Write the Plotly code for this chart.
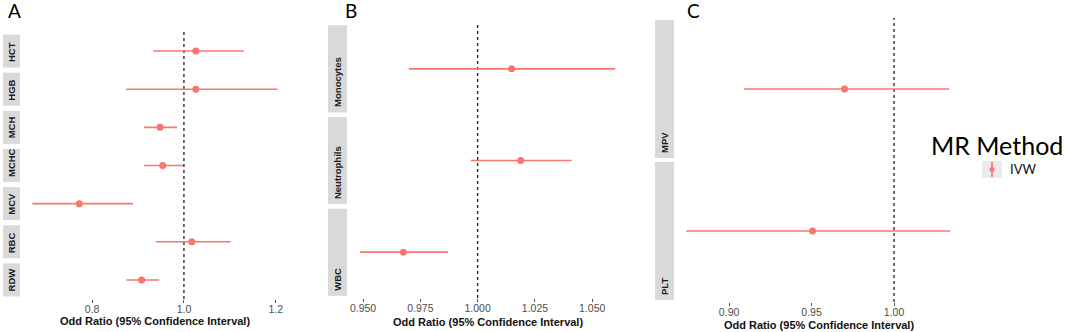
import plotly.graph_objects as go

W, H = 1065, 332

# ---------------- data ----------------
a_cats = ["HCT", "HGB", "MCH", "MCHC", "MCV", "RBC", "RDW"]
a_or = [1.026, 1.026, 0.948, 0.954, 0.772, 1.017, 0.908]
a_lo = [0.933, 0.874, 0.913, 0.913, 0.670, 0.939, 0.874]
a_hi = [1.130, 1.204, 0.985, 0.998, 0.889, 1.102, 0.946]

b_cats = ["Monocytes", "Neutrophils", "WBC"]
b_or = [1.0148, 1.0188, 0.9676]
b_lo = [0.970, 0.997, 0.9486]
b_hi = [1.060, 1.041, 0.987]

c_cats = ["MPV", "PLT"]
c_or = [0.970, 0.9506]
c_lo = [0.909, 0.874]
c_hi = [1.0334, 1.034]

a_ticks = [0.8, 1.0, 1.2]
a_ticktext = ["0.8", "1.0", "1.2"]
b_ticks = [0.950, 0.975, 1.000, 1.025, 1.050]
b_ticktext = ["0.950", "0.975", "1.000", "1.025", "1.050"]
c_ticks = [0.90, 0.95, 1.00]
c_ticktext = ["0.90", "0.95", "1.00"]

method_name = "IVW"
legend_title = "MR Method"
x_title = "Odd Ratio (95% Confidence Interval)"

RED = "#F8766D"
STRIP = "#d9d9d9"
FONT = "Liberation Sans, Arial, sans-serif"
FONT2 = "Lato, Liberation Sans, sans-serif"


def px(p):
    return p / W


def py(p):
    return 1 - p / H


panels = [
    dict(cats=a_cats, orv=a_or, lo=a_lo, hi=a_hi, ticks=a_ticks, ticktext=a_ticktext,
         xdom=(20, 290), ydom=(32, 299), xr=(0.643, 1.231), strip=(3, 20), sh=0.433,
         letter="A", lx=6, title_y=320.5),
    dict(cats=b_cats, orv=b_or, lo=b_lo, hi=b_hi, ticks=b_ticks, ticktext=b_ticktext,
         xdom=(347, 628), ydom=(23, 298), xr=(0.943, 1.0656), strip=(328, 347), sh=0.475,
         letter="B", lx=343, title_y=321.5),
    dict(cats=c_cats, orv=c_or, lo=c_lo, hi=c_hi, ticks=c_ticks, ticktext=c_ticktext,
         xdom=(673, 964), ydom=(18, 302), xr=(0.866, 1.0424), strip=(655, 674), sh=0.486,
         letter="C", lx=685, title_y=324.5),
]

fig = go.Figure()
shapes = []
annotations = []
layout_axes = {}

for i, p in enumerate(panels, start=1):
    xa = "x" if i == 1 else f"x{i}"
    ya = "y" if i == 1 else f"y{i}"
    xkey = "xaxis" if i == 1 else f"xaxis{i}"
    ykey = "yaxis" if i == 1 else f"yaxis{i}"
    n = len(p["cats"])
    ypos = list(range(n))
    fig.add_trace(go.Scatter(
        x=p["orv"], y=ypos, xaxis=xa, yaxis=ya, mode="markers",
        name=method_name, showlegend=False,
        marker=dict(color=RED, size=7),
        error_x=dict(type="data", symmetric=False,
                     array=[h - o for h, o in zip(p["hi"], p["orv"])],
                     arrayminus=[o - l for o, l in zip(p["orv"], p["lo"])],
                     width=0, thickness=1.6, color=RED),
        hoverinfo="skip",
    ))
    layout_axes[xkey] = dict(
        domain=[px(p["xdom"][0]), px(p["xdom"][1])], range=list(p["xr"]),
        anchor=ya, tickvals=p["ticks"], ticktext=p["ticktext"],
        ticks="outside", ticklen=3, tickcolor="#555", tickwidth=1,
        ticklabelstandoff=-3,
        tickfont=dict(size=10.5, color="#4d4d4d", family=FONT),
        showgrid=False, zeroline=False, showline=False,
    )
    layout_axes[ykey] = dict(
        domain=[py(p["ydom"][1]), py(p["ydom"][0])], range=[n - 0.5, -0.5],
        anchor=xa, showticklabels=False, ticks="", showgrid=False,
        zeroline=False, showline=False,
    )
    shapes.append(dict(type="line", xref=xa, yref=f"{ya} domain", x0=1, x1=1, y0=0, y1=1,
                       line=dict(color="#222", width=1.3, dash="dot"), layer="below"))
    for j, c in enumerate(p["cats"]):
        shapes.append(dict(type="rect", xref="paper", yref=ya,
                           x0=px(p["strip"][0]), x1=px(p["strip"][1]),
                           y0=j - p["sh"], y1=j + p["sh"],
                           fillcolor=STRIP, line=dict(width=0), layer="below"))
        annotations.append(dict(xref="paper", yref=ya,
                                x=px((p["strip"][0] + p["strip"][1]) / 2), y=j + p["sh"],
                                text=f"<b>{c}</b>", textangle=-90, showarrow=False,
                                font=dict(size=9.5, color="#1a1a1a", family=FONT),
                                xanchor="center", yanchor="bottom", yshift=3))
    annotations.append(dict(xref="paper", yref="paper",
                            x=px((p["xdom"][0] + p["xdom"][1]) / 2), y=py(p["title_y"]),
                            text=f"<b>{x_title}</b>", showarrow=False,
                            font=dict(size=11, color="#111", family=FONT),
                            xanchor="center", yanchor="middle"))
    annotations.append(dict(xref="paper", yref="paper", x=px(p["lx"]), y=py(11),
                            text=p["letter"], showarrow=False,
                            font=dict(size=19, color="#000", family=FONT2),
                            xanchor="left", yanchor="middle"))

annotations.append(dict(xref="paper", yref="paper", x=px(929), y=py(145),
                        text=legend_title, showarrow=False,
                        font=dict(size=25, color="#000", family=FONT2),
                        xanchor="left", yanchor="middle"))
annotations.append(dict(xref="paper", yref="paper", x=px(1008), y=py(169),
                        text=method_name, showarrow=False,
                        font=dict(size=13, color="#111", family=FONT2),
                        xanchor="left", yanchor="middle"))
shapes.append(dict(type="rect", xref="paper", yref="paper",
                   x0=px(982), x1=px(1002), y0=py(178), y1=py(161),
                   fillcolor="#ebebeb", line=dict(width=0)))
shapes.append(dict(type="line", xref="paper", yref="paper",
                   x0=px(992), x1=px(992), y0=py(177), y1=py(162),
                   line=dict(color=RED, width=1.6)))
shapes.append(dict(type="circle", xref="paper", yref="paper",
                   x0=px(989.5), x1=px(994.5), y0=py(172), y1=py(167),
                   fillcolor=RED, line=dict(width=0)))

fig.update_layout(
    width=W, height=H, margin=dict(l=0, r=0, t=0, b=0),
    paper_bgcolor="white", plot_bgcolor="white",
    showlegend=False, shapes=shapes, annotations=annotations,
    **layout_axes,
)

fig.write_html("out.html", config={"displayModeBar": False},
               post_script="document.body.style.margin='0';document.body.style.overflow='hidden';")
